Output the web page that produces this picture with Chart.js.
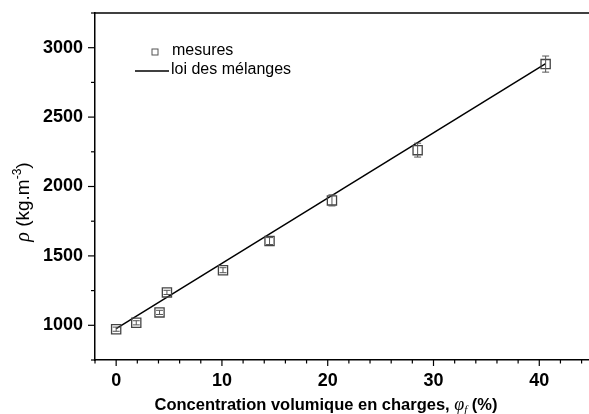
<!DOCTYPE html>
<html>
<head>
  <title>Masse volumique</title>
  <script src="https://cdn.jsdelivr.net/npm/chart.js"></script>
  <style>
    html, body { margin: 0; padding: 0; background: #fff; }
  </style>
</head>
<body>
<canvas id="rhoChart" width="589" height="414"></canvas>

<script>
  // measured points
  const phi = [0, 1.9, 4.1, 4.8, 10.1, 14.5, 20.4, 28.5, 40.6];
  const rho = [972, 1018, 1093, 1237, 1397, 1607, 1900, 2262, 2882];
  const rhoErr = [15, 15, 15, 15, 18, 25, 40, 50, 58];
  // mixture law
  const lawPhi = [0, 40.6];
  const lawRho = [976, 2886];
  // tick labels
  const xTicks = [0, 10, 20, 30, 40];
  const yTicks = [1000, 1500, 2000, 2500, 3000];

  const sans = "'Liberation Sans', Arial, sans-serif";
  const serif = "'Liberation Serif', 'Times New Roman', serif";

  function drawRich(ctx, pieces, x, y) {
    let w = 0;
    pieces.forEach(p => { ctx.font = p.font; w += ctx.measureText(p.t).width; });
    let cx = x - w / 2;
    pieces.forEach(p => {
      ctx.font = p.font;
      ctx.fillText(p.t, cx, y + (p.dy || 0));
      cx += ctx.measureText(p.t).width;
    });
  }

  const decor = {
    id: 'decor',
    afterDraw(chart) {
      const { ctx, chartArea: a, scales: { x, y } } = chart;
      ctx.save();
      ctx.strokeStyle = '#000';
      ctx.fillStyle = '#000';

      // top frame
      ctx.lineWidth = 1.5;
      ctx.beginPath();
      ctx.moveTo(a.left, a.top);
      ctx.lineTo(a.right, a.top);
      ctx.stroke();

      // ticks (outside)
      ctx.lineWidth = 1.2;
      for (let v = -2; v <= 44; v += 2) {
        const px = x.getPixelForValue(v);
        const len = v % 10 === 0 ? 6 : 3.5;
        ctx.beginPath();
        ctx.moveTo(px, a.bottom);
        ctx.lineTo(px, a.bottom + len);
        ctx.stroke();
      }
      for (let v = 750; v <= 3250; v += 250) {
        const py = y.getPixelForValue(v);
        const len = v % 500 === 0 ? 7 : 4;
        ctx.beginPath();
        ctx.moveTo(a.left, py);
        ctx.lineTo(a.left - len, py);
        ctx.stroke();
      }

      // error bars
      ctx.strokeStyle = '#555';
      ctx.lineWidth = 1;
      phi.forEach((v, i) => {
        const px = x.getPixelForValue(v);
        const y1 = y.getPixelForValue(rho[i] + rhoErr[i]);
        const y2 = y.getPixelForValue(rho[i] - rhoErr[i]);
        ctx.beginPath();
        ctx.moveTo(px, y1); ctx.lineTo(px, y2);
        ctx.moveTo(px - 3.5, y1); ctx.lineTo(px + 3.5, y1);
        ctx.moveTo(px - 3.5, y2); ctx.lineTo(px + 3.5, y2);
        ctx.stroke();
      });

      // legend
      ctx.strokeStyle = '#555';
      ctx.lineWidth = 1;
      ctx.strokeRect(152, 49, 6, 6);
      ctx.strokeStyle = '#000';
      ctx.lineWidth = 1.5;
      ctx.beginPath();
      ctx.moveTo(135, 71);
      ctx.lineTo(169, 71);
      ctx.stroke();
      ctx.font = '16px ' + sans;
      ctx.textBaseline = 'middle';
      ctx.textAlign = 'left';
      ctx.fillText('mesures', 172, 51);
      ctx.fillText('loi des mélanges', 171, 70);

      // axis titles
      ctx.textBaseline = 'alphabetic';
      drawRich(ctx, [
        { t: 'Concentration volumique en charges, ', font: 'bold 16.5px ' + sans },
        { t: 'φ', font: 'italic 18px ' + serif },
        { t: 'f', font: 'italic 11px ' + serif, dy: 3 },
        { t: ' (%)', font: 'bold 16.5px ' + sans }
      ], 326, 410);

      ctx.translate(29, 202);
      ctx.rotate(-Math.PI / 2);
      drawRich(ctx, [
        { t: 'ρ', font: 'italic 20px ' + serif },
        { t: ' (kg.m', font: '19px ' + sans },
        { t: '-3', font: '12px ' + sans, dy: -8 },
        { t: ')', font: '19px ' + sans }
      ], 0, 0);
      ctx.restore();
    }
  };

  new Chart(document.getElementById('rhoChart'), {
    type: 'scatter',
    data: {
      datasets: [{
        label: 'loi des mélanges',
        data: lawPhi.map((v, i) => ({ x: v, y: lawRho[i] })),
        showLine: true,
        borderColor: '#000',
        borderWidth: 1.5,
        pointRadius: 0,
        order: 2
      }, {
        label: 'mesures',
        data: phi.map((v, i) => ({ x: v, y: rho[i] })),
        pointStyle: 'rect',
        pointRadius: 6.5,
        borderColor: '#444',
        backgroundColor: 'rgba(0,0,0,0)',
        borderWidth: 1.3,
        order: 1
      }]
    },
    options: {
      responsive: false,
      animation: false,
      devicePixelRatio: 1,
      layout: { autoPadding: false, padding: { top: 13, right: 0, left: 0, bottom: 0 } },
      plugins: { legend: { display: false }, tooltip: { enabled: false } },
      scales: {
        x: {
          type: 'linear',
          min: -2,
          max: 44.7,
          grid: { display: false, drawTicks: false },
          border: { display: true, color: '#000', width: 1.5 },
          afterBuildTicks: s => { s.ticks = xTicks.map(v => ({ value: v })); },
          afterFit: s => { s.height = 54; s.paddingLeft = 0; s.paddingRight = 0; },
          ticks: {
            font: { family: sans, weight: 'bold', size: 18 },
            color: '#000',
            padding: 10,
            maxRotation: 0,
            autoSkip: false,
            callback: v => String(v)
          }
        },
        y: {
          type: 'linear',
          min: 750,
          max: 3250,
          grid: { display: false, drawTicks: false },
          border: { display: true, color: '#000', width: 1.5 },
          afterBuildTicks: s => { s.ticks = yTicks.map(v => ({ value: v })); },
          afterFit: s => { s.width = 95; s.paddingTop = 0; s.paddingBottom = 0; },
          ticks: {
            font: { family: sans, weight: 'bold', size: 18 },
            color: '#000',
            padding: 12,
            autoSkip: false,
            callback: v => String(v)
          }
        }
      }
    },
    plugins: [decor]
  });
</script>
</body>
</html>
